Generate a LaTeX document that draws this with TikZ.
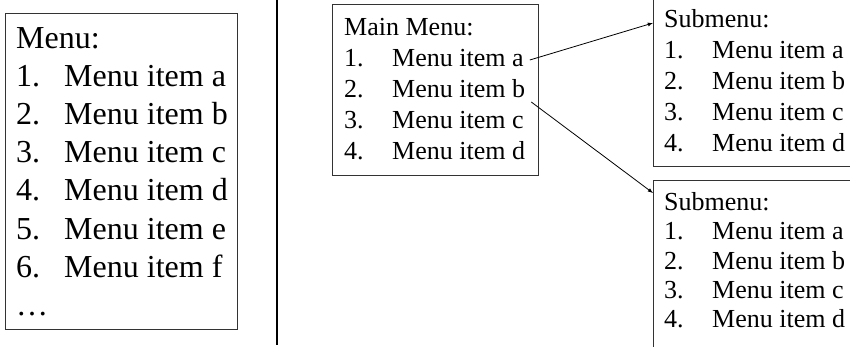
\documentclass[tikz,border=0pt]{standalone}
\usepackage{fontspec}
\setmainfont{Liberation Serif}
\newcommand{\menuline}[2]{\makebox[48pt][l]{#1.}#2}

\begin{document}
\begin{tikzpicture}[x=1pt,y=-1pt]

\def\bigsep{38}
\def\smallsep{31}

\tikzstyle{menuBox}=[rectangle,draw=black!80,line width=1.2pt,anchor=north west,inner sep=0pt]
\tikzstyle{bigItem}=[anchor=base west,inner sep=0pt,font=\fontsize{32}{38}\selectfont]
\tikzstyle{smallItem}=[bigItem,font=\fontsize{26}{31}\selectfont]
\tikzstyle{link}=[-latex,line width=0.8pt]

\useasboundingbox (0,0) rectangle (850,347);

%Boxes
\node[menuBox,minimum width=232pt,minimum height=316pt] (bigMenu)   at (5,13)   {};
\node[menuBox,minimum width=206pt,minimum height=171pt] (mainMenu)  at (332,4)  {};
\node[menuBox,minimum width=220pt,minimum height=168pt] (subMenuA)  at (653,-2) {};
\node[menuBox,minimum width=220pt,minimum height=190pt] (subMenuB)  at (653,180) {};

%divider
\coordinate (divTop)    at (277,0);
\coordinate (divBottom) at (277,345);
\draw[line width=1.6pt] (divTop) -- (divBottom);

%left menu
\node[bigItem] (bigTitle) at (16,49)           {Menu:};
\node[bigItem] (bigA) at (16,49+1*\bigsep)     {\menuline{1}{Menu item a}};
\node[bigItem] (bigB) at (16,49+2*\bigsep)     {\menuline{2}{Menu item b}};
\node[bigItem] (bigC) at (16,49+3*\bigsep)     {\menuline{3}{Menu item c}};
\node[bigItem] (bigD) at (16,49+4*\bigsep)     {\menuline{4}{Menu item d}};
\node[bigItem] (bigE) at (16,49+5*\bigsep)     {\menuline{5}{Menu item e}};
\node[bigItem] (bigF) at (16,49+6*\bigsep)     {\menuline{6}{Menu item f}};
\node[bigItem] (bigMore) at (16,49+7*\bigsep)  {\dots};

%main menu
\node[smallItem] (mainTitle) at (344,36)       {Main Menu:};
\node[smallItem] (mainA) at (344,36+1*\smallsep) {\menuline{1}{Menu item a}};
\node[smallItem] (mainB) at (344,36+2*\smallsep) {\menuline{2}{Menu item b}};
\node[smallItem] (mainC) at (344,36+3*\smallsep) {\menuline{3}{Menu item c}};
\node[smallItem] (mainD) at (344,36+4*\smallsep) {\menuline{4}{Menu item d}};

%first submenu
\node[smallItem] (subTitleA) at (664,28)       {Submenu:};
\node[smallItem] (subAA) at (664,28+1*\smallsep) {\menuline{1}{Menu item a}};
\node[smallItem] (subAB) at (664,28+2*\smallsep) {\menuline{2}{Menu item b}};
\node[smallItem] (subAC) at (664,28+3*\smallsep) {\menuline{3}{Menu item c}};
\node[smallItem] (subAD) at (664,28+4*\smallsep) {\menuline{4}{Menu item d}};

%second submenu
\node[smallItem] (subTitleB) at (664,211)      {Submenu:};
\node[smallItem] (subBA) at (664,211+1*29)     {\menuline{1}{Menu item a}};
\node[smallItem] (subBB) at (664,211+2*29)     {\menuline{2}{Menu item b}};
\node[smallItem] (subBC) at (664,211+3*29)     {\menuline{3}{Menu item c}};
\node[smallItem] (subBD) at (664,211+4*29)     {\menuline{4}{Menu item d}};

%connections
\draw[link] ([shift={(6,-7)}]mainA.base east) -- ([shift={(0,25)}]subMenuA.north west);
\draw[link] ([shift={(6,4)}]mainB.base east)  -- ([shift={(0,13)}]subMenuB.north west);

\end{tikzpicture}
\end{document}
